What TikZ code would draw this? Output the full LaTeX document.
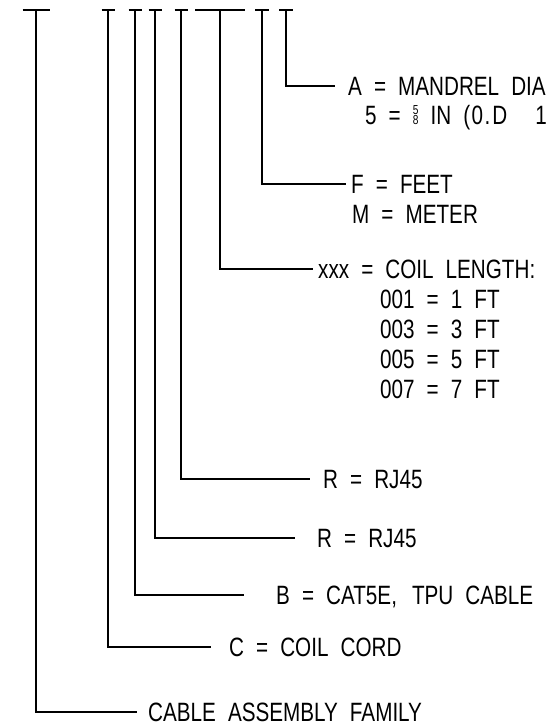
\documentclass[tikz,border=0pt]{standalone}
\usepackage{fontspec}
\newfontfamily\cadfont[FakeStretch=0.78,WordSpace=2.1]{Liberation Sans}
\newcommand\fracfive{{\fontsize{13}{13}\selectfont\rlap{\raisebox{10pt}{5}}8}}
\tikzset{
  lbl/.style={anchor=west, inner sep=0pt, text height=19pt, text depth=0pt,
    font=\cadfont\fontsize{26.5}{30}\selectfont},
  lead/.style={line width=1.9pt, line join=miter},
}
\begin{document}
\begin{tikzpicture}[x=1pt,y=-1pt]
\useasboundingbox (0,0) rectangle (557,725);
% top bars (code positions)
\coordinate (t1) at (36,10);
\coordinate (t2) at (108,10);
\coordinate (t3) at (135,10);
\coordinate (t4) at (155,10);
\coordinate (t5) at (181,10);
\coordinate (t6) at (220,10);
\coordinate (t7) at (262,10);
\coordinate (t8) at (286,10);
\foreach \n/\w in {1/13.5,2/6.5,3/6.5,4/6.5,5/6.5,6/25,7/7,8/7}
  \draw[lead] ([xshift=-\w pt]t\n) -- ([xshift=\w pt]t\n);
% labels
\node[lbl] (a8) at (348,86) {A = MANDREL DIA};
\node[lbl] (b8) at (365,115) {5 = \fracfive\ IN (\kern1.5pt0\kern1.5pt.\kern2pt D\hspace{16pt} 1};
\node[lbl] (a7) at (351,184) {F = FEET};
\node[lbl] (b7) at (352,214) {M = METER};
\node[lbl] (a6) at (318,269) {xxx = COIL LENGTH:};
\node[lbl] (c1) at (380,299) {001 = 1 FT};
\node[lbl] (c3) at (380,329) {003 = 3 FT};
\node[lbl] (c5) at (380,359) {005 = 5 FT};
\node[lbl] (c7) at (380,389) {007 = 7 FT};
\node[lbl] (a5) at (323,479) {R = RJ45};
\node[lbl] (a4) at (317,538) {R = RJ45};
\node[lbl] (a3) at (276,595) {B = CAT5E,\kern3pt\ TPU CABLE};
\node[lbl] (a2) at (229,647) {C = COIL CORD};
\node[lbl] (a1) at (148,712) {CABLE ASSEMBLY FAMILY};
% leaders
\draw[lead] (t8) |- ([xshift=-13pt]a8.west);
\draw[lead] (t7) |- ([xshift=-5pt]a7.west);
\draw[lead] (t6) |- ([xshift=-5pt]a6.west);
\draw[lead] (t5) |- ([xshift=-13pt]a5.west);
\draw[lead] (t4) |- ([xshift=-22pt]a4.west);
\draw[lead] (t3) |- ([xshift=-32pt]a3.west);
\draw[lead] (t2) |- ([xshift=-18pt]a2.west);
\draw[lead] (t1) |- ([xshift=-11pt]a1.west);
\end{tikzpicture}
\end{document}
